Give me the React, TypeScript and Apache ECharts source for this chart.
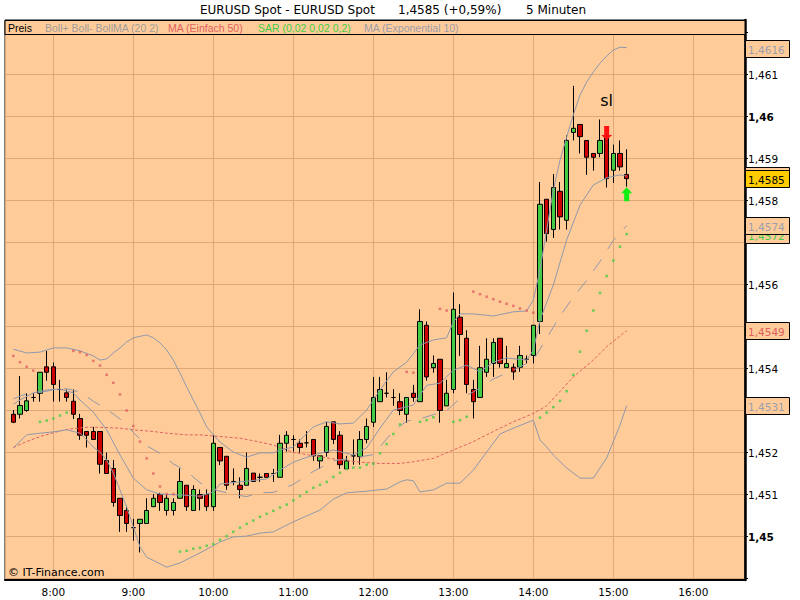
import React, { useEffect, useRef } from "react";
import * as echarts from "echarts";

// [time, open, close, low, high]
const candles: [string, number, number, number, number][] = [
  ["7:30", 1.45291, 1.45272, 1.4527, 1.45301],
  ["7:35", 1.45291, 1.45312, 1.45281, 1.45382],
  ["7:40", 1.453, 1.45323, 1.45297, 1.45341],
  ["7:45", 1.45331, 1.45331, 1.45321, 1.45341],
  ["7:50", 1.45341, 1.45391, 1.45321, 1.45391],
  ["7:55", 1.45404, 1.45391, 1.45371, 1.45442],
  ["8:00", 1.45404, 1.45362, 1.45321, 1.45414],
  ["8:05", 1.4535, 1.4535, 1.45321, 1.45373],
  ["8:10", 1.45342, 1.45331, 1.45321, 1.4535],
  ["8:15", 1.45322, 1.45291, 1.4528, 1.4535],
  ["8:20", 1.45281, 1.45241, 1.4523, 1.45292],
  ["8:25", 1.4525, 1.45241, 1.45212, 1.4525],
  ["8:30", 1.4525, 1.45231, 1.45231, 1.45261],
  ["8:35", 1.4525, 1.45172, 1.4515, 1.4525],
  ["8:40", 1.45181, 1.4515, 1.4515, 1.452],
  ["8:45", 1.45162, 1.45081, 1.45071, 1.45182],
  ["8:50", 1.45091, 1.4505, 1.45011, 1.45091],
  ["8:55", 1.45062, 1.45031, 1.45011, 1.45073],
  ["9:00", 1.45021, 1.45021, 1.4499, 1.45042],
  ["9:05", 1.45031, 1.45041, 1.44962, 1.45041],
  ["9:10", 1.45031, 1.45062, 1.45031, 1.45091],
  ["9:15", 1.45071, 1.45091, 1.45071, 1.45101],
  ["9:20", 1.451, 1.45081, 1.45061, 1.45104],
  ["9:25", 1.45062, 1.45091, 1.4505, 1.45101],
  ["9:30", 1.45062, 1.45081, 1.4505, 1.45091],
  ["9:35", 1.45091, 1.45131, 1.45091, 1.45162],
  ["9:40", 1.45122, 1.45071, 1.45061, 1.45122],
  ["9:45", 1.45062, 1.45112, 1.45062, 1.45122],
  ["9:50", 1.451, 1.45091, 1.45062, 1.45112],
  ["9:55", 1.451, 1.45071, 1.45061, 1.45112],
  ["10:00", 1.45071, 1.45222, 1.45061, 1.45242],
  ["10:05", 1.45212, 1.4518, 1.4517, 1.45212],
  ["10:10", 1.45191, 1.45122, 1.45111, 1.45191],
  ["10:15", 1.45131, 1.45131, 1.45122, 1.45162],
  ["10:20", 1.45122, 1.45112, 1.45091, 1.45141],
  ["10:25", 1.45122, 1.45162, 1.45122, 1.452],
  ["10:30", 1.45151, 1.45131, 1.45131, 1.45151],
  ["10:35", 1.45141, 1.45141, 1.4513, 1.4515],
  ["10:40", 1.4515, 1.45141, 1.45141, 1.4515],
  ["10:45", 1.4515, 1.4515, 1.4513, 1.45161],
  ["10:50", 1.45141, 1.45222, 1.45141, 1.45242],
  ["10:55", 1.45222, 1.45241, 1.45202, 1.45251],
  ["11:00", 1.45231, 1.45231, 1.45202, 1.45241],
  ["11:05", 1.45222, 1.45212, 1.452, 1.45231],
  ["11:10", 1.45223, 1.45223, 1.45212, 1.45251],
  ["11:15", 1.45231, 1.45192, 1.4518, 1.45231],
  ["11:20", 1.4518, 1.45192, 1.45161, 1.45192],
  ["11:25", 1.452, 1.45262, 1.4519, 1.45273],
  ["11:30", 1.45273, 1.45231, 1.4522, 1.45273],
  ["11:35", 1.45241, 1.45171, 1.45161, 1.45251],
  ["11:40", 1.45161, 1.4518, 1.45161, 1.45192],
  ["11:45", 1.45192, 1.45192, 1.45171, 1.45231],
  ["11:50", 1.4519, 1.45231, 1.45171, 1.45251],
  ["11:55", 1.45231, 1.45262, 1.45222, 1.45281],
  ["12:00", 1.45272, 1.45331, 1.45261, 1.4538],
  ["12:05", 1.45321, 1.4535, 1.45321, 1.4538],
  ["12:10", 1.45341, 1.45341, 1.45331, 1.45391],
  ["12:15", 1.45331, 1.45331, 1.45311, 1.45351],
  ["12:20", 1.45321, 1.453, 1.45289, 1.45341],
  ["12:25", 1.45291, 1.45331, 1.45271, 1.45331],
  ["12:30", 1.45341, 1.45331, 1.45321, 1.45361],
  ["12:35", 1.45321, 1.45512, 1.45321, 1.45541],
  ["12:40", 1.45503, 1.4538, 1.45371, 1.45512],
  ["12:45", 1.45402, 1.45412, 1.4539, 1.45431],
  ["12:50", 1.45422, 1.453, 1.45271, 1.45422],
  ["12:55", 1.45311, 1.45341, 1.45311, 1.45373],
  ["13:00", 1.4535, 1.45541, 1.45341, 1.45581],
  ["13:05", 1.45522, 1.45481, 1.4543, 1.45553],
  ["13:10", 1.45472, 1.45362, 1.45341, 1.45491],
  ["13:15", 1.4535, 1.45321, 1.45281, 1.45373],
  ["13:20", 1.45331, 1.45402, 1.45331, 1.45454],
  ["13:25", 1.45391, 1.45422, 1.4538, 1.45472],
  ["13:30", 1.45412, 1.45462, 1.4538, 1.45472],
  ["13:35", 1.45472, 1.45412, 1.45402, 1.45472],
  ["13:40", 1.45402, 1.45412, 1.45402, 1.45454],
  ["13:45", 1.45403, 1.45392, 1.45373, 1.45412],
  ["13:50", 1.45403, 1.45431, 1.45392, 1.45454],
  ["13:55", 1.45422, 1.45422, 1.45412, 1.45431],
  ["14:00", 1.45431, 1.45503, 1.45412, 1.45503],
  ["14:05", 1.45512, 1.45791, 1.45482, 1.45844],
  ["14:10", 1.45803, 1.45721, 1.45702, 1.45803],
  ["14:15", 1.45731, 1.45831, 1.45711, 1.45863],
  ["14:20", 1.45822, 1.45761, 1.45731, 1.45844],
  ["14:25", 1.45753, 1.45943, 1.45731, 1.45955],
  ["14:30", 1.45962, 1.45972, 1.45943, 1.46073],
  ["14:35", 1.45981, 1.45952, 1.45912, 1.45981],
  ["14:40", 1.45943, 1.45903, 1.45861, 1.45943],
  ["14:45", 1.45912, 1.45903, 1.45871, 1.45912],
  ["14:50", 1.45912, 1.45943, 1.45903, 1.45993],
  ["14:55", 1.45952, 1.45852, 1.45831, 1.45962],
  ["15:00", 1.45872, 1.45912, 1.45842, 1.45933],
  ["15:05", 1.45912, 1.4588, 1.45871, 1.45943],
  ["15:10", 1.45862, 1.45852, 1.45833, 1.45922],
];

const bollUpper: [string, number][] = [
  ["7:30", 1.45446], ["7:40", 1.45437], ["7:50", 1.45439], ["8:00", 1.45449],
  ["8:10", 1.45449], ["8:20", 1.45442], ["8:30", 1.4543], ["8:35", 1.4542],
  ["8:40", 1.45423], ["8:45", 1.45437], ["8:50", 1.45449], ["8:55", 1.45463],
  ["9:00", 1.45473], ["9:10", 1.4548], ["9:15", 1.45473], ["9:20", 1.45461],
  ["9:25", 1.45444], ["9:30", 1.4542], ["9:35", 1.45389], ["9:40", 1.45356],
  ["9:45", 1.45325], ["9:50", 1.45294], ["9:55", 1.45261], ["10:00", 1.45242],
  ["10:05", 1.45225], ["10:15", 1.45201], ["10:25", 1.45189], ["10:35", 1.45199],
  ["10:45", 1.45199], ["10:50", 1.45206], ["11:00", 1.45213], ["11:15", 1.45261],
  ["11:25", 1.45273], ["11:35", 1.45268], ["11:45", 1.4527], ["11:55", 1.45301],
  ["12:05", 1.45349], ["12:15", 1.45392], ["12:25", 1.45415], ["12:35", 1.45456],
  ["12:45", 1.45468], ["12:55", 1.45473], ["13:00", 1.45511], ["13:05", 1.4553],
  ["13:15", 1.4553], ["13:30", 1.45525], ["13:45", 1.45535], ["13:55", 1.45537],
  ["14:00", 1.45563], ["14:05", 1.45635], ["14:10", 1.4573], ["14:15", 1.45825],
  ["14:20", 1.45896], ["14:25", 1.45951], ["14:30", 1.46004], ["14:35", 1.46051],
  ["14:40", 1.46082], ["14:45", 1.46106], ["14:50", 1.46127], ["14:55", 1.46144],
  ["15:00", 1.46158], ["15:05", 1.46165], ["15:10", 1.46164],
];

const bollLower: [string, number][] = [
  ["7:30", 1.45211], ["7:40", 1.45242], ["7:50", 1.45246], ["8:00", 1.45249],
  ["8:10", 1.45254], ["8:20", 1.45246], ["8:25", 1.4523], ["8:30", 1.45213],
  ["8:35", 1.45201], ["8:40", 1.45182], ["8:45", 1.45151], ["8:50", 1.45111],
  ["8:55", 1.4507], ["9:00", 1.45023], ["9:05", 1.44975], ["9:10", 1.44951],
  ["9:20", 1.44935], ["9:25", 1.44927], ["9:35", 1.44937], ["9:50", 1.44961],
  ["10:05", 1.44987], ["10:15", 1.44999], ["10:25", 1.45001], ["10:35", 1.45008],
  ["10:45", 1.45011], ["11:00", 1.45035], ["11:20", 1.45063], ["11:30", 1.45089],
  ["11:40", 1.45104], ["11:55", 1.45108], ["12:10", 1.45113], ["12:20", 1.4513],
  ["12:25", 1.45135], ["12:30", 1.45133], ["12:35", 1.45106], ["12:45", 1.45111],
  ["12:55", 1.45127], ["13:05", 1.45127], ["13:15", 1.45158], ["13:25", 1.45201],
  ["13:35", 1.45244], ["13:45", 1.45258], ["14:00", 1.45277], ["14:05", 1.4523],
  ["14:10", 1.45213], ["14:15", 1.45194], ["14:25", 1.45163], ["14:35", 1.45139],
  ["14:45", 1.45139], ["14:55", 1.45187], ["15:05", 1.45265], ["15:10", 1.45312],
];

const bollMid: [string, number][] = [
  ["7:30", 1.45328], ["7:40", 1.4534], ["7:50", 1.45343], ["8:00", 1.45349],
  ["8:10", 1.45352], ["8:20", 1.45344], ["8:30", 1.45322], ["8:40", 1.45303],
  ["8:50", 1.4528], ["9:00", 1.45248], ["9:10", 1.45216], ["9:20", 1.45198],
  ["9:30", 1.45173], ["9:40", 1.45155], ["9:50", 1.45128], ["10:00", 1.45112],
  ["10:15", 1.451], ["10:25", 1.45095], ["10:35", 1.45104], ["10:45", 1.45105],
  ["11:00", 1.45124], ["11:15", 1.45155], ["11:30", 1.4518], ["11:45", 1.45187],
  ["12:00", 1.45195], ["12:15", 1.45251], ["12:25", 1.45275], ["12:35", 1.4528],
  ["12:45", 1.4529], ["12:55", 1.453], ["13:05", 1.45328], ["13:15", 1.45344],
  ["13:30", 1.45375], ["13:45", 1.45396], ["14:00", 1.4542], ["14:10", 1.45472],
  ["14:20", 1.45525], ["14:30", 1.4557], ["14:40", 1.4561], ["14:50", 1.45655],
  ["15:00", 1.45705], ["15:10", 1.4574],
];

const ema10: [string, number][] = [
  ["7:30", 1.45315], ["7:35", 1.45325], ["7:45", 1.45342], ["7:55", 1.45349],
  ["8:05", 1.45351], ["8:15", 1.45342], ["8:20", 1.45325], ["8:30", 1.45296],
  ["8:40", 1.45254], ["8:50", 1.45194], ["9:00", 1.45139], ["9:10", 1.45111],
  ["9:20", 1.45101], ["9:35", 1.45099], ["9:50", 1.45096], ["10:00", 1.45106],
  ["10:05", 1.45125], ["10:20", 1.4513], ["10:40", 1.45137], ["10:50", 1.45158],
  ["11:00", 1.45177], ["11:15", 1.45194], ["11:30", 1.45206], ["11:45", 1.45194],
  ["11:55", 1.45211], ["12:05", 1.45258], ["12:15", 1.45301], ["12:30", 1.45313],
  ["12:40", 1.4536], ["12:50", 1.45365], ["13:00", 1.45396], ["13:10", 1.45408],
  ["13:20", 1.45392], ["13:30", 1.45415], ["13:40", 1.45425], ["13:55", 1.4542],
  ["14:00", 1.45444], ["14:05", 1.45515], ["14:15", 1.45599], ["14:25", 1.45706],
  ["14:35", 1.45789], ["14:45", 1.45837], ["14:55", 1.45854], ["15:05", 1.45861],
  ["15:10", 1.45858],
];

const ma50: [string, number][] = [
  ["7:30", 1.45212], ["7:40", 1.45226], ["7:50", 1.45238], ["8:00", 1.45247],
  ["8:10", 1.45255], ["8:25", 1.4526], ["8:35", 1.4526], ["8:50", 1.45258],
  ["9:00", 1.45254], ["9:15", 1.4525], ["9:25", 1.45246], ["9:40", 1.45242],
  ["9:50", 1.45242], ["10:05", 1.45238], ["10:20", 1.45234], ["10:30", 1.45228],
  ["10:45", 1.45218], ["11:00", 1.452], ["11:20", 1.4519], ["11:35", 1.45182],
  ["11:50", 1.45177], ["12:05", 1.45174], ["12:20", 1.45174], ["12:30", 1.45178],
  ["12:45", 1.45186], ["13:00", 1.45206], ["13:15", 1.45226], ["13:30", 1.4525],
  ["13:45", 1.45273], ["14:00", 1.45293], ["14:10", 1.45311], ["14:30", 1.4538],
  ["14:45", 1.4542], ["14:55", 1.45452], ["15:10", 1.4549],
];

const sarRed: [string, number][] = [
  ["7:30", 1.4543], ["7:35", 1.45415], ["7:40", 1.45404], ["7:45", 1.45395],
  ["8:15", 1.45442], ["8:20", 1.45439], ["8:25", 1.45432], ["8:30", 1.45418],
  ["8:35", 1.45407], ["8:40", 1.45385], ["8:45", 1.45366], ["8:50", 1.45338],
  ["8:55", 1.453], ["9:00", 1.45263], ["9:05", 1.45226], ["9:10", 1.45186],
  ["9:15", 1.4515], ["9:20", 1.45119], ["9:25", 1.45101], ["9:30", 1.45101],
  ["12:25", 1.45392], ["12:30", 1.4539], ["12:50", 1.45542], ["12:55", 1.45538],
  ["13:15", 1.45583], ["13:20", 1.45577], ["13:25", 1.45571], ["13:30", 1.45565],
  ["13:35", 1.45559], ["13:40", 1.45554], ["13:45", 1.45549], ["13:50", 1.45543],
  ["13:55", 1.45538], ["14:00", 1.45533],
];

const sarGreen: [string, number][] = [
  ["7:50", 1.45273], ["7:55", 1.45276], ["8:00", 1.45281], ["8:05", 1.45288],
  ["8:10", 1.45295],
  ["9:35", 1.44964], ["9:40", 1.44966], ["9:45", 1.44971], ["9:50", 1.44973],
  ["9:55", 1.44978], ["10:00", 1.44982], ["10:05", 1.44992], ["10:10", 1.45001],
  ["10:15", 1.45011], ["10:20", 1.45021], ["10:25", 1.4503], ["10:30", 1.45038],
  ["10:35", 1.45047], ["10:40", 1.45054], ["10:45", 1.45061], ["10:50", 1.45069],
  ["10:55", 1.45076], ["11:00", 1.45086], ["11:05", 1.45096], ["11:10", 1.45106],
  ["11:15", 1.45116], ["11:20", 1.45123], ["11:25", 1.4513], ["11:30", 1.45142],
  ["11:35", 1.45152], ["11:40", 1.45161], ["11:45", 1.45164], ["11:50", 1.45164],
  ["11:55", 1.45171], ["12:00", 1.45173], ["12:05", 1.45198], ["12:10", 1.4522],
  ["12:15", 1.45244], ["12:20", 1.45267],
  ["12:35", 1.45273], ["12:40", 1.45277], ["12:45", 1.45284],
  ["13:00", 1.45273], ["13:05", 1.45277], ["13:10", 1.45285],
  ["14:05", 1.45283], ["14:10", 1.45295], ["14:15", 1.45308], ["14:20", 1.45323],
  ["14:25", 1.45346], ["14:30", 1.45385], ["14:35", 1.4544], ["14:40", 1.4549],
  ["14:45", 1.45538], ["14:50", 1.4558], ["14:55", 1.4562], ["15:00", 1.45657],
  ["15:05", 1.4569], ["15:10", 1.4572],
];

// value boxes on the price scale (the first one lies hidden behind the price box)
const boxLabels = ["", "1,4585", "1,4572", "1,4574", "1,4616", "1,4549", "1,4531"];
const boxValues = [1.45858, 1.4585, 1.45717, 1.4574, 1.4616, 1.4549, 1.4531];
const boxText = ["#9a9eae", "#000000", "#44cc44", "#9a9eae", "#9a9eae", "#e06060", "#9a9eae"];
const boxFill = ["#ffcc99", "#ffcc00", "#ffcc99", "#ffcc99", "#ffcc99", "#ffcc99", "#ffcc99"];
// axis labels that lie under a value box
const coveredTicks = [1.453, 1.455, 1.457, 1.449, 1.462];

const legendItems = ["Preis", "Boll+ Boll- BollMA (20 2)", "MA (Einfach 50)", "SAR (0,02 0,02 0,2)", "MA (Exponential 10)"];
const legendColors = ["#000000", "#a09c9c", "#e06060", "#44cc44", "#9c9cac"];
const legendX = [8, 45, 168, 258, 364];

const ts = (s: string) => {
  const p = s.split(":").map(Number);
  return new Date(2008, 3, 15, p[0], p[1], p[2] || 0).getTime();
};
const pairs = (arr: [string, number][]) => arr.map(([t, v]) => [ts(t), v]);

const FONT = '"DejaVu Sans"';
const BG = "#ffcc99";
const GRIDC = "#e0a878";
const GRAY = "#8f98aa";

export default function App() {
  const ref = useRef<HTMLDivElement>(null);
  useEffect(() => {
    const chart = echarts.init(ref.current!, undefined, { renderer: "svg" });
    const X_MIN = ts("7:23:45");
    const X_MAX = ts("16:38:45");
    const fmtY = (v: number) => {
      if (coveredTicks.some((c) => Math.abs(v - c) < 1e-7)) return "";
      let s = v.toFixed(3);
      const major = s.endsWith("0");
      s = s.replace(/0+$/, "").replace(".", ",");
      return major ? "{b|" + s + "}" : s;
    };
    const option: any = {
      animation: false,
      grid: {
        left: 5, right: 55, top: 20, bottom: 20, show: true,
        backgroundColor: BG, borderColor: "#000", borderWidth: 1,
      },
      xAxis: {
        type: "time", min: X_MIN, max: X_MAX, splitNumber: 9,
        axisLine: { lineStyle: { color: "#000", width: 2 } },
        axisTick: { show: false },
        splitLine: { show: true, lineStyle: { color: GRIDC, width: 1 } },
        axisLabel: {
          color: "#000", fontFamily: FONT, fontSize: 10.5, margin: 6,
          showMinLabel: false, showMaxLabel: false,
          formatter: (v: number) => {
            const d = new Date(v);
            return d.getHours() + ":" + String(d.getMinutes()).padStart(2, "0");
          },
        },
      },
      yAxis: {
        type: "value", position: "right", scale: true,
        min: 1.45 - 43.5 / 42000, max: 1.45 + 516.5 / 42000,
        splitNumber: 13, minInterval: 0.001, maxInterval: 0.001,
        axisLine: { show: true, lineStyle: { color: "#000", width: 2.5 } },
        axisTick: { show: true, length: 3, lineStyle: { color: "#000" } },
        splitLine: { show: true, lineStyle: { color: GRIDC, width: 1 } },
        axisLabel: {
          color: "#000", fontFamily: FONT, fontSize: 10.5, margin: 3,
          showMinLabel: false, showMaxLabel: false,
          formatter: fmtY,
          rich: { b: { fontWeight: "bold", fontFamily: FONT, fontSize: 10.5, color: "#000" } },
        },
      },
      series: [
        {
          type: "candlestick", name: "Preis", z: 2,
          data: candles.map(([t, o, c, l, h]) => [ts(t), o, c, l, h]),
          encode: { x: 0, y: [1, 2, 3, 4] },
          barWidth: 5,
          itemStyle: {
            color: "#44cc44", color0: "#cc0000",
            borderColor: "#000", borderColor0: "#000", borderColorDoji: "#000", borderWidth: 1,
          },
          markPoint: {
            silent: true,
            data: [
              {
                coord: [ts("14:55"), 1.45961],
                symbol: "path://M3,0 L8,0 L8,9 L11,9 L5.5,14 L0,9 L3,9 Z",
                symbolSize: [11, 14], itemStyle: { color: "#ff1111" }, label: { show: false },
              },
              {
                coord: [ts("15:10"), 1.45815],
                symbol: "path://M5.5,0 L11,6 L8,6 L8,14 L3,14 L3,6 L0,6 Z",
                symbolSize: [11, 14], itemStyle: { color: "#11ee11" }, label: { show: false },
              },
              {
                coord: [ts("14:55"), 1.46039], symbol: "rect", symbolSize: 1,
                itemStyle: { color: "rgba(0,0,0,0)" },
                label: { show: true, position: "inside", formatter: "sl", color: "#000", fontSize: 16, fontFamily: FONT },
              },
            ],
          },
        },
        {
          type: "line", name: "MA50", z: 3, data: pairs(ma50), showSymbol: false,
          lineStyle: { color: "#e06060", width: 1, type: [3, 2] },
        },
        {
          type: "line", name: "BollUp", z: 3, data: pairs(bollUpper), showSymbol: false,
          lineStyle: { color: GRAY, width: 1 },
        },
        {
          type: "line", name: "BollDown", z: 3, data: pairs(bollLower), showSymbol: false,
          lineStyle: { color: GRAY, width: 1 },
        },
        {
          type: "line", name: "BollMA", z: 3, data: pairs(bollMid), showSymbol: false,
          lineStyle: { color: GRAY, width: 1, type: [14, 12] },
        },
        {
          type: "line", name: "EMA10", z: 3, data: pairs(ema10), showSymbol: false,
          lineStyle: { color: GRAY, width: 1 },
        },
        {
          type: "scatter", name: "SARr", z: 4, data: pairs(sarRed), symbol: "rect", symbolSize: 2.5,
          itemStyle: { color: "#e06060" },
        },
        {
          type: "scatter", name: "SARg", z: 4, data: pairs(sarGreen), symbol: "rect", symbolSize: 2.5,
          itemStyle: { color: "#44cc44" },
        },
        {
          type: "custom", name: "boxes", z: 20, clip: false,
          data: boxValues.map((v) => [X_MAX, v]),
          renderItem: (params: any, api: any) => {
            const i = params.dataIndex;
            const p = api.coord([api.value(0), api.value(1)]);
            const children: any[] = [
              {
                type: "rect",
                shape: { x: p[0] + 0.5, y: Math.round(p[1]) - 8.5, width: 44, height: 17 },
                style: { fill: boxFill[i], stroke: "#000", lineWidth: 1 },
              },
            ];
            if (boxLabels[i]) {
              children.push({
                type: "text",
                style: {
                  text: boxLabels[i], x: p[0] + 3, y: Math.round(p[1]) + 0.5,
                  verticalAlign: "middle", align: "left", fill: boxText[i],
                  font: "10.5px " + FONT,
                },
              });
            }
            return { type: "group", children };
          },
        },
      ],
      graphic: [
        {
          type: "rect", z: 100, shape: { x: 5, y: 20.5, width: 740, height: 14 },
          style: { fill: BG, stroke: "#000", lineWidth: 1 },
        },
        ...legendItems.map((t, i) => ({
          type: "text", z: 101, x: legendX[i], y: 28,
          style: { text: t, fill: legendColors[i], font: '10.5px "Liberation Sans"', verticalAlign: "middle" },
        })),
        {
          type: "text", z: 101, x: 200, y: 10,
          style: { text: "EURUSD Spot - EURUSD Spot", fill: "#000", font: "12px " + FONT, verticalAlign: "middle" },
        },
        {
          type: "text", z: 101, x: 398, y: 10,
          style: { text: "1,4585 (+0,59%)", fill: "#000", font: "12px " + FONT, verticalAlign: "middle" },
        },
        {
          type: "text", z: 101, x: 526, y: 10,
          style: { text: "5 Minuten", fill: "#000", font: "12px " + FONT, verticalAlign: "middle" },
        },
        {
          type: "text", z: 101, x: 8, y: 572,
          style: { text: "© IT-Finance.com", fill: "#000", font: "11px " + FONT, verticalAlign: "middle" },
        },
      ],
    };
    chart.setOption(option);
    return () => chart.dispose();
  }, []);
  return (
    <div
      ref={ref}
      style={{ position: "absolute", left: 0, top: 0, width: 800, height: 600, background: "#fff" }}
    />
  );
}
